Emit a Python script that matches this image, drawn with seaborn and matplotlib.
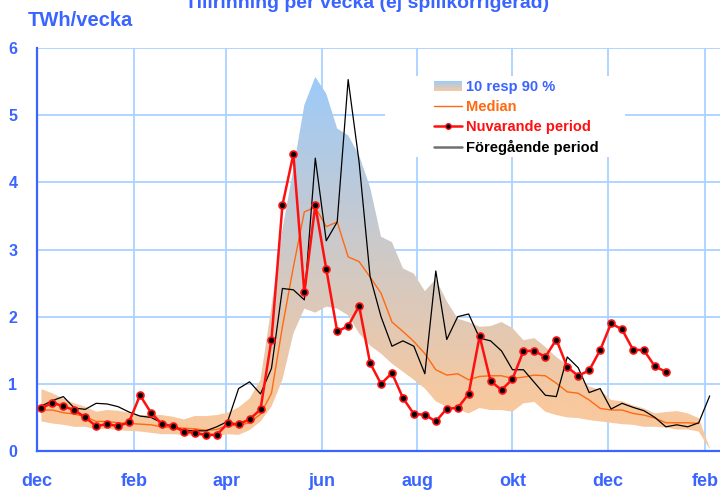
import matplotlib

matplotlib.use("Agg")

import matplotlib.pyplot as plt
import numpy as np
import pandas as pd
import seaborn as sns
from matplotlib.colors import LinearSegmentedColormap
from matplotlib.legend_handler import HandlerBase
from matplotlib.lines import Line2D
from matplotlib.patches import Rectangle


FIRST_WEEK = "2021-12-04"
X_START = "2021-12-01"
MONTH_TICKS = [
    "2021-12-01", "2022-02-01", "2022-04-01", "2022-06-01",
    "2022-08-01", "2022-10-01", "2022-12-01", "2023-02-01",
]
MONTH_LABELS = ["dec", "feb", "apr", "jun", "aug", "okt", "dec", "feb"]

# 10 resp 90 % band (TWh/vecka)
band_low = [
    0.44, 0.41, 0.39, 0.36, 0.36, 0.32, 0.33, 0.31, 0.30, 0.29,
    0.27, 0.25, 0.25, 0.24, 0.22, 0.22, 0.22, 0.25, 0.24, 0.31,
    0.44, 0.66, 1.06, 1.75, 2.12, 2.06, 2.15, 2.12, 2.02, 1.75,
    1.57, 1.45, 1.30, 1.18, 1.06, 0.93, 0.74, 0.66, 0.62, 0.56,
    0.64, 0.61, 0.61, 0.585, 0.71, 0.73, 0.585, 0.535, 0.50, 0.49,
    0.46, 0.44, 0.42, 0.40, 0.39, 0.36, 0.36, 0.35, 0.32, 0.32,
    0.29, 0.03,
]
band_high = [
    0.92, 0.86, 0.78, 0.71, 0.66, 0.585, 0.61, 0.60, 0.57, 0.535,
    0.535, 0.535, 0.51, 0.47, 0.52, 0.52, 0.535, 0.57, 0.65, 0.78,
    1.06, 2.15, 3.30, 4.20, 5.15, 5.57, 5.32, 4.80, 4.70, 4.40,
    3.93, 3.19, 3.11, 2.72, 2.64, 2.38, 2.56, 2.23, 1.97, 1.92,
    1.85, 1.86, 1.92, 1.83, 1.65, 1.68, 1.55, 1.40, 1.28, 1.11,
    0.96, 0.91, 0.76, 0.74, 0.68, 0.635, 0.56, 0.58, 0.595, 0.56,
    0.49, 0.05,
]
median = [
    0.61, 0.61, 0.57, 0.55, 0.51, 0.44, 0.44, 0.42, 0.41, 0.40,
    0.39, 0.36, 0.35, 0.34, 0.33, 0.31, 0.32, 0.38, 0.38, 0.42,
    0.55, 0.86, 1.85, 2.74, 3.56, 3.63, 3.34, 3.41, 2.89, 2.82,
    2.59, 2.35, 1.92, 1.78, 1.63, 1.45, 1.21, 1.13, 1.15, 1.06,
    1.11, 1.12, 1.12, 1.08, 1.10, 1.13, 1.12, 1.01, 0.88, 0.86,
    0.76, 0.635, 0.61, 0.61, 0.56, 0.535, 0.49, 0.42, 0.42, 0.42,
    0.41,
]
current = [
    0.635, 0.72, 0.665, 0.61, 0.50, 0.37, 0.40, 0.37, 0.43, 0.83,
    0.57, 0.40, 0.37, 0.29, 0.27, 0.24, 0.24, 0.41, 0.40, 0.47,
    0.62, 1.66, 3.66, 4.42, 2.36, 3.66, 2.71, 1.78, 1.86, 2.16,
    1.31, 1.00, 1.16, 0.79, 0.55, 0.54, 0.44, 0.63, 0.64, 0.85,
    1.71, 1.04, 0.91, 1.07, 1.49, 1.49, 1.40, 1.66, 1.25, 1.12,
    1.20, 1.50, 1.90, 1.81, 1.51, 1.50, 1.26, 1.18,
]
previous = [
    0.67, 0.75, 0.81, 0.64, 0.62, 0.71, 0.70, 0.66, 0.58, 0.52,
    0.50, 0.42, 0.36, 0.31, 0.30, 0.30, 0.36, 0.44, 0.93, 1.03,
    0.85, 1.23, 2.42, 2.40, 2.25, 4.36, 3.13, 3.41, 5.53, 4.30,
    2.60, 2.00, 1.56, 1.64, 1.56, 1.15, 2.68, 1.66, 2.00, 2.04,
    1.68, 1.64, 1.49, 1.21, 1.21, 1.02, 0.83, 0.81, 1.40, 1.24,
    0.87, 0.93, 0.625, 0.71, 0.65, 0.60, 0.50, 0.36, 0.39, 0.36,
    0.42, 0.82,
]

BLUE = "#3a64ff"
GRID = "#a9d2ff"
PEACH = "#f8c89e"
SKY = "#9ccbfa"
ORANGE = "#ff6a10"
RED = "#ff1010"

band_cmap = LinearSegmentedColormap.from_list("band", [PEACH, SKY])


class BandKey:
    pass


class GradientHandler(HandlerBase):
    def create_artists(self, legend, orig_handle, xdescent, ydescent, width, height, fontsize, trans):
        n = 14
        out = []
        for i in range(n):
            out.append(Rectangle(
                (-xdescent, -ydescent + height * i / n), width, height / n * 1.05,
                facecolor=band_cmap((i + 0.5) / n), lw=0, transform=trans,
            ))
        return out


def main() -> None:
    sns.set_style("white")
    plt.rcParams["font.family"] = ["Liberation Sans", "DejaVu Sans"]
    plt.rcParams["font.weight"] = "bold"

    weeks = pd.date_range(FIRST_WEEK, periods=len(band_low), freq="7D")
    x0 = pd.Timestamp(X_START)
    x1 = x0 + pd.Timedelta(days=436.6)

    fig = plt.figure(figsize=(7.2, 4.93), dpi=100)
    ax = fig.add_axes([0.051, 0.0852, 0.949, 0.8174])

    # gradient band clipped to the 10/90 polygon
    poly = ax.fill_between(weeks, band_low, band_high, color="none", lw=0)
    yy = np.linspace(0, 6, 600).reshape(-1, 1)
    grad = np.clip((yy - 0.7) / (5.6 - 0.7), 0, 1)
    xn0 = matplotlib.dates.date2num(x0)
    xn1 = matplotlib.dates.date2num(x1)
    img = ax.imshow(grad, extent=[xn0, xn1, 0, 6], origin="lower", aspect="auto",
                    cmap=band_cmap, vmin=0, vmax=1, zorder=1.5, interpolation="bilinear")
    img.set_clip_path(poly.get_paths()[0], poly.get_transform())

    sns.lineplot(x=weeks[:len(median)], y=median, ax=ax, color=ORANGE, lw=1.0, zorder=3)
    sns.lineplot(x=weeks, y=previous, ax=ax, color="black", lw=0.9, zorder=3)
    sns.lineplot(x=weeks[:len(current)], y=current, ax=ax, color=RED, lw=1.8, zorder=4,
                 marker="o", markersize=5, markerfacecolor="black",
                 markeredgecolor=RED, markeredgewidth=1.2)

    ax.set_xlim(x0, x1)
    ax.set_ylim(0, 6)
    ax.set_xticks(pd.to_datetime(MONTH_TICKS))
    ax.set_xticklabels(MONTH_LABELS)
    ax.set_yticks(range(7))
    ax.set_xlabel("")
    ax.set_ylabel("")

    ax.grid(True, color=GRID, lw=1.3)
    ax.set_axisbelow(True)
    for side in ("top", "right"):
        ax.spines[side].set_visible(False)
    for side in ("left", "bottom"):
        ax.spines[side].set_color(BLUE)
        ax.spines[side].set_linewidth(1.6)
    ax.tick_params(axis="x", colors=BLUE, length=7, width=1.6, pad=9, labelsize=13)
    ax.tick_params(axis="y", colors=BLUE, length=6, width=1.6, pad=8, labelsize=11.5)
    for lab in ax.get_xticklabels() + ax.get_yticklabels():
        lab.set_fontweight("bold")

    # white area behind the legend
    ax.add_patch(Rectangle((0.51, 0.7295), 0.351, 0.201, transform=ax.transAxes,
                           facecolor="white", edgecolor="none", zorder=1.2))

    handles = [
        BandKey(),
        Line2D([], [], color=ORANGE, lw=1.0),
        Line2D([], [], color=RED, lw=1.8, marker="o", markersize=4,
               markerfacecolor="black", markeredgecolor=RED, markeredgewidth=1),
        Line2D([], [], color="#707070", lw=1.8),
    ]
    labels = ["10 resp 90 %", "Median", "Nuvarande period", "Föregående period"]
    ax.legend(handles, labels, handler_map={BandKey: GradientHandler()},
              loc="upper left", bbox_to_anchor=(0.5814, 0.9206), frameon=False,
              prop={"weight": "bold", "size": 10.5},
              labelcolor=[BLUE, ORANGE, RED, "black"],
              handlelength=1.9, handletextpad=0.3, labelspacing=0.4,
              borderpad=0, borderaxespad=0)

    # title sits partly above the top edge, as in the source image
    fig.text(367 / 720, 1 - 8 / 493, "Tillrinning per vecka (ej spillkorrigerad)",
             ha="center", va="baseline", color=BLUE, fontsize=14, fontweight="bold")
    fig.text(28 / 720, 1 - 26 / 493, "TWh/vecka", ha="left", va="baseline",
             color=BLUE, fontsize=14.5, fontweight="bold")

    fig.savefig("out.png", dpi=100)
    plt.close(fig)


if __name__ == "__main__":
    main()
